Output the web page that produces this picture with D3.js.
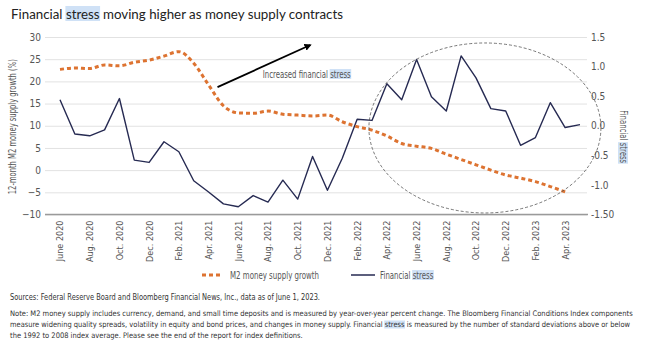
<!DOCTYPE html>
<html>
<head>
<meta charset="utf-8">
<script src="https://cdn.jsdelivr.net/npm/d3@7"></script>
<style>
  body { margin: 0; background: #fff; }
  text { font-family: "Liberation Sans Narrow", "DejaVu Sans Condensed", Roboto, sans-serif; fill: #555; }
</style>
</head>
<body>
<svg id="chart" width="661" height="349"></svg>
<script>
// monthly categories, June 2020 .. May 2023
var months = ["June 2020","July 2020","Aug. 2020","Sept. 2020","Oct. 2020","Nov. 2020","Dec. 2020",
  "Jan. 2021","Feb. 2021","Mar. 2021","Apr. 2021","May 2021","June 2021","July 2021","Aug. 2021",
  "Sept. 2021","Oct. 2021","Nov. 2021","Dec. 2021","Jan. 2022","Feb. 2022","Mar. 2022","Apr. 2022",
  "May 2022","June 2022","July 2022","Aug. 2022","Sept. 2022","Oct. 2022","Nov. 2022","Dec. 2022",
  "Jan. 2023","Feb. 2023","Mar. 2023","Apr. 2023","May 2023"];

// 12-month M2 growth (%), left axis
var m2 = [22.7, 23.0, 22.9, 23.7, 23.5, 24.3, 24.8, 25.7, 26.7, 24.1, 19.2, 14.5,
  12.9, 12.8, 13.3, 12.6, 12.4, 12.2, 12.4, 10.9, 9.8, 9.0, 7.7, 6.0,
  5.4, 4.9, 3.6, 2.4, 1.2, 0.0, -1.1, -1.8, -2.6, -3.7, -4.9, null];

// financial stress (std devs), right axis
var stress = [0.44, -0.14, -0.17, -0.07, 0.46, -0.58, -0.62, -0.27, -0.44, -0.93, -1.12, -1.32,
  -1.37, -1.18, -1.29, -0.92, -1.24, -0.52, -1.09, -0.55, 0.11, 0.09, 0.71, 0.44,
  1.12, 0.49, 0.25, 1.18, 0.81, 0.29, 0.25, -0.33, -0.20, 0.39, -0.03, 0.02];

var leftTicks = [-10, -5, 0, 5, 10, 15, 20, 25, 30];
var rightTicks = [1.5, 1.0, 0.5, 0, -0.5, -1.0, -1.5];
var rightTickLabels = ["1.5", "1.0", "0.5", "0.0", "-0.5", "-1.0", "-1.50"];

var title = "Financial stress moving higher as money supply contracts";
var sources = "Sources: Federal Reserve Board and Bloomberg Financial News, Inc., data as of June 1, 2023.";
var notes = [
  "Note: M2 money supply includes currency, demand, and small time deposits and is measured by year-over-year percent change. The Bloomberg Financial Conditions Index components",
  "measure widening quality spreads, volatility in equity and bond prices, and changes in money supply. Financial stress is measured by the number of standard deviations above or below",
  "the 1992 to 2008 index average. Please see the end of the report for index definitions."
];

var orange = "#dd7331", navy = "#262a52", hl = "#cfe1f6";

var svg = d3.select("#chart");

var plot = {left: 45, right: 587, top: 37, bottom: 214.5};

var x = d3.scaleLinear().domain([0, months.length - 1]).range([60, 580]);
var yL = d3.scaleLinear().domain([-10, 30]).range([plot.bottom, plot.top]);
var yR = d3.scaleLinear().domain([-1.5, 1.5]).range([plot.bottom, plot.top]);

// puts a light blue box behind a word of a text element
function highlight(t, word) {
  var node = t.node(), s = node.textContent, i = s.indexOf(word);
  var a = node.getExtentOfChar(i), b = node.getExtentOfChar(i + word.length - 1);
  d3.select(node.parentNode).insert("rect", function() { return node; })
    .attr("x", a.x - 0.5).attr("y", a.y + 0.5)
    .attr("width", b.x + b.width - a.x + 1).attr("height", a.height - 1)
    .attr("transform", t.attr("transform"))
    .style("fill", hl);
}

// title
var tt = svg.append("text").attr("x", 11).attr("y", 18.5)
  .attr("textLength", 332).attr("lengthAdjust", "spacingAndGlyphs")
  .style("font-family", "Lato, 'Open Sans', sans-serif").style("font-size", "13.5px").style("fill", "#222")
  .text(title);
highlight(tt, "stress");

// gridlines from the left axis
svg.append("g")
  .attr("transform", "translate(" + plot.left + ",0)")
  .call(d3.axisLeft(yL).tickValues(leftTicks).tickSize(-(plot.right - plot.left)).tickFormat(""))
  .call(g => g.select(".domain").remove())
  .call(g => g.selectAll("line").attr("stroke", "#e2e2e2").attr("stroke-width", 1));

// bottom axis line
svg.append("line")
  .attr("x1", plot.left).attr("x2", plot.right + 1)
  .attr("y1", yL(-10)).attr("y2", yL(-10))
  .attr("stroke", "#9a9a9a").attr("stroke-width", 1.5);

// left axis labels
svg.append("g")
  .attr("transform", "translate(" + plot.left + ",0)")
  .call(d3.axisLeft(yL).tickValues(leftTicks).tickSize(0).tickPadding(4))
  .call(g => g.select(".domain").remove())
  .call(g => g.selectAll("text").style("font-size", "10px").style("fill", "#555")
    .style("font-family", null));

// right axis labels
svg.append("g")
  .attr("transform", "translate(" + (plot.right + 3) + ",0)")
  .call(d3.axisRight(yR).tickValues(rightTicks).tickSize(0).tickPadding(1)
    .tickFormat((d, i) => rightTickLabels[i]))
  .call(g => g.select(".domain").remove())
  .call(g => g.selectAll("text").style("font-size", "10px").style("fill", "#555")
    .style("font-family", null));

// x axis labels, every second month
var xTicks = d3.range(0, months.length, 2);
svg.append("g")
  .attr("transform", "translate(0," + plot.bottom + ")")
  .call(d3.axisBottom(x).tickValues(xTicks).tickSize(0).tickFormat(i => months[i]))
  .call(g => g.select(".domain").remove())
  .selectAll("text")
    .style("font-size", "9px").style("fill", "#555").style("font-family", null)
    .style("text-anchor", "end")
    .attr("y", 0).attr("dy", "0.33em").attr("x", -6)
    .attr("transform", "rotate(-90)");

// axis titles
var lt = svg.append("g").attr("transform", "translate(12.5,126.7)");
lt.append("text").attr("transform", "rotate(-90)").attr("dy", "0.35em")
  .attr("text-anchor", "middle").attr("textLength", 135).attr("lengthAdjust", "spacingAndGlyphs")
  .style("font-size", "10px").text("12-month M2 money supply growth (%)");

var rt = svg.append("g").attr("transform", "translate(623,136.7)");
var rtt = rt.append("text").attr("transform", "rotate(90)").attr("dy", "0.35em")
  .attr("text-anchor", "middle").attr("textLength", 53).attr("lengthAdjust", "spacingAndGlyphs")
  .style("font-size", "10px").text("Financial stress");
highlight(rtt, "stress");

// series
var m2Line = d3.line()
  .defined(d => d != null)
  .x((d, i) => x(i)).y(d => yL(d))
  .curve(d3.curveMonotoneX);

var stressLine = d3.line()
  .x((d, i) => x(i)).y(d => yR(d));

svg.append("path").datum(stress)
  .attr("d", stressLine)
  .attr("fill", "none").attr("stroke", navy).attr("stroke-width", 1.4)
  .attr("stroke-linejoin", "round");

svg.append("path").datum(m2)
  .attr("d", m2Line)
  .attr("fill", "none").attr("stroke", orange).attr("stroke-width", 3)
  .attr("stroke-dasharray", "4,3");

// dashed ellipse around the recent period
svg.append("ellipse")
  .attr("cx", x(28.6)).attr("cy", yL(9.5))
  .attr("rx", 116).attr("ry", 85)
  .attr("fill", "none").attr("stroke", "#555").attr("stroke-width", 0.8)
  .attr("stroke-dasharray", "3,2");

// arrow annotation
svg.append("defs").append("marker")
  .attr("id", "head").attr("viewBox", "0 0 10 10").attr("refX", 8).attr("refY", 5)
  .attr("markerWidth", 4).attr("markerHeight", 4).attr("orient", "auto")
  .append("path").attr("d", "M0,0L10,5L0,10z").attr("fill", "#000");

svg.append("line")
  .attr("x1", x(10.6)).attr("y1", yL(18.7))
  .attr("x2", x(16.85)).attr("y2", yL(28.2))
  .attr("stroke", "#000").attr("stroke-width", 1.8)
  .attr("marker-end", "url(#head)");

var at = svg.append("text").attr("x", 262.7).attr("y", 77.5)
  .attr("textLength", 88).attr("lengthAdjust", "spacingAndGlyphs")
  .style("font-size", "10px").style("fill", "#555")
  .text("Increased financial stress");
highlight(at, "stress");

// legend
var lg = svg.append("g").attr("transform", "translate(0,275)");
lg.append("line").attr("x1", 202).attr("x2", 222).attr("y1", 0).attr("y2", 0)
  .attr("stroke", orange).attr("stroke-width", 3).attr("stroke-dasharray", "4,3");
lg.append("text").attr("x", 230).attr("y", 0).attr("dy", "0.35em")
  .attr("textLength", 89).attr("lengthAdjust", "spacingAndGlyphs")
  .style("font-size", "10px").text("M2 money supply growth");
lg.append("line").attr("x1", 351).attr("x2", 375).attr("y1", 0).attr("y2", 0)
  .attr("stroke", navy).attr("stroke-width", 1.5);
var lgt = lg.append("text").attr("x", 380).attr("y", 0).attr("dy", "0.35em")
  .attr("textLength", 53.3).attr("lengthAdjust", "spacingAndGlyphs")
  .style("font-size", "10px").text("Financial stress");
highlight(lgt, "stress");

// source and notes
svg.append("text").attr("x", 10).attr("y", 299.5)
  .attr("textLength", 310).attr("lengthAdjust", "spacingAndGlyphs")
  .style("font-size", "9px").style("fill", "#333").text(sources);

var noteLens = [622.7, 620, 292.7];
notes.forEach(function(n, i) {
  var t = svg.append("text").attr("x", 10).attr("y", 316 + i * 11)
    .attr("textLength", noteLens[i]).attr("lengthAdjust", "spacingAndGlyphs")
    .style("font-size", "7.6px").style("fill", "#333").text(n);
  if (n.indexOf("stress") >= 0) highlight(t, "stress");
});
</script>
</body>
</html>
